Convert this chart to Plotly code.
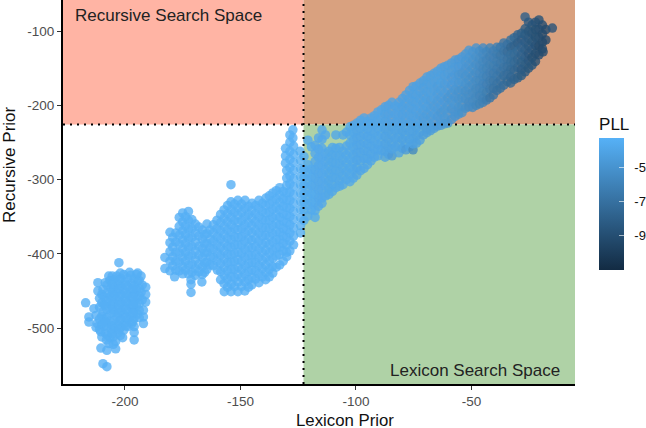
import plotly.graph_objects as go

# (Lexicon Prior, Recursive Prior), all with high PLL
cluster_a = [
(-202.6,-412),(-217,-466),(-213.4,-474),(-215.6,-485),(-215.6,-492),(-211.7,-439),(-211.7,-450),
(-209.5,-548),(-207.8,-552),(-210.4,-527),(-207.8,-530),(-204,-528),(-196,-498),(-196,-506),(-196,-516),
(-212,-494),(-211,-502),(-209.5,-448),(-209,-458),(-209,-468),(-209.5,-478),(-209,-488),(-209,-498),(-208.5,-507),
(-206.5,-436),(-206,-447),(-206.5,-458),(-206,-469),(-206,-480),(-206.5,-491),(-206,-502),(-206.5,-513),(-207,-521),
(-203.5,-430),(-203,-441),(-203.5,-452),(-203,-463),(-203,-474),(-203.5,-485),(-203,-496),(-203,-507),(-204,-518),
(-200.5,-428),(-200,-438),(-200.5,-449),(-200,-460),(-200,-471),(-200.5,-482),(-200,-493),(-200.5,-503),(-201,-513),
(-197.5,-429),(-197,-440),(-197.5,-451),(-197,-462),(-197,-473),(-197.5,-484),(-197,-494),
(-195,-428),(-194.5,-437),(-195,-448),(-194.5,-459),(-195,-470),(-194.5,-481),
(-193,-430),(-192.5,-442),(-193,-452),(-192.5,-462),(-192,-476),(-192,-485),(-192,-494),
(-191,-445),(-191,-455),(-191,-465),
]

cluster_a_fill = [
(-210,-455),(-210,-466),(-210,-484),(-210,-495),(-210.5,-505),
(-207.8,-442),(-207.8,-453),(-207.8,-464),(-207.8,-475),(-207.8,-486),(-207.8,-497),(-207.5,-510),
(-204.8,-435),(-204.8,-446),(-204.8,-457),(-204.8,-468),(-204.8,-479),(-204.8,-490),(-204.8,-501),(-205,-512),(-205,-522),
(-201.8,-433),(-201.8,-444),(-201.8,-455),(-201.8,-466),(-201.8,-477),(-201.8,-488),(-201.8,-499),(-202,-510),
(-198.8,-433),(-198.8,-444),(-198.8,-455),(-198.8,-466),(-198.8,-477),(-198.8,-488),(-198.8,-498),
(-196,-434),(-196,-443),(-196,-454),(-196,-465),(-196,-476),(-196,-487),
(-193.8,-436),(-193.8,-447),(-193.8,-457),(-193.8,-467),(-193.8,-476),(-193.8,-486),
(-212.5,-483),(-211,-488),(-212.5,-499),(-210,-512),(-208,-516),(-211,-460),(-211,-472),
(-208.5,-439),(-207,-430),(-205.5,-430),(-202,-426),(-198,-425),(-194.5,-426),
(-208.5,-470),(-208.5,-492),(-205.5,-475),(-205.5,-463),(-205.5,-452),(-205.5,-441),(-205.5,-497),(-205.5,-507),
(-202.5,-436),(-202.5,-447),(-202.5,-458),(-202.5,-469),(-202.5,-480),(-202.5,-491),(-202.5,-502),
(-199.5,-442),(-199.5,-453),(-199.5,-464),(-199.5,-475),(-199.5,-486),(-199.5,-497),
(-196.5,-447),(-196.5,-458),(-196.5,-469),(-196.5,-480),(-196.5,-491),
]

cluster_b = [
(-182.7,-405),(-182.7,-420),(-180.5,-371),(-180.5,-385),(-180.5,-397),(-180.5,-410),(-180.5,-423),
(-178,-372),(-178,-384),(-178,-398),(-178,-410),(-178,-422),(-178.5,-431),
(-175,-345),(-175,-357),(-175,-369),(-175,-381),(-175,-393),(-175,-405),(-175,-417),(-175,-427),
(-172.5,-343),(-172.5,-355),(-172.5,-367),(-172.5,-379),(-172.5,-391),(-172.5,-403),(-172.5,-415),(-172.5,-427),
(-171.4,-435),(-171.4,-441),(-171.4,-452),
(-169.5,-360),(-169.5,-372),(-169.5,-384),(-169.5,-396),(-169.5,-408),(-169.5,-420),(-169.5,-429),
(-166.5,-368),(-166.5,-380),(-166.5,-393),(-166.5,-405),(-166.5,-417),(-166.5,-428),(-166.7,-438),
(-164.5,-360),(-164.5,-373),(-164.5,-386),(-164.5,-398),(-164.5,-411),(-164.5,-421),
(-163.2,-368),(-163,-380),(-163.2,-392),(-163,-404),(-163.2,-415),
(-160.2,-355),(-160.2,-366),(-160,-377),(-160.2,-388),(-160,-399),(-160.2,-410),(-160,-422),
(-157.1,-341),(-157.1,-352),(-157,-363),(-157.1,-374),(-157,-385),(-157.1,-396),(-157,-407),(-157.1,-418),(-157,-429),(-157.1,-440),(-157,-451),
(-154.1,-307),(-154.1,-330),(-154,-341),(-154.1,-351),(-154,-361),(-154.1,-371),(-154,-381),(-154.1,-391),(-154,-401),(-154.1,-411),(-154,-421),(-154.1,-431),(-154,-441),(-154.1,-451),
(-151.1,-328),(-151,-338),(-151.1,-348),(-151,-358),(-151.1,-368),(-151,-378),(-151.1,-388),(-151,-398),(-151.1,-408),(-151,-418),(-151.1,-428),(-151,-438),(-151.1,-451),
(-148,-328),(-148.1,-339),(-148,-350),(-148.1,-361),(-148,-372),(-148.1,-383),(-148,-394),(-148.1,-405),(-148,-416),(-148.1,-427),(-148,-438),(-148.1,-450),
(-145,-332),(-145.1,-342),(-145,-352),(-145.1,-362),(-145,-372),(-145.1,-382),(-145,-392),(-145.1,-402),(-145,-412),(-145.1,-422),(-145,-432),(-145.1,-442),
(-142,-328),(-142.1,-339),(-142,-350),(-142.1,-361),(-142,-372),(-142.1,-383),(-142,-394),(-142.1,-405),(-142,-416),(-142.1,-427),(-142,-439),
(-139,-325),(-139.1,-335),(-139,-345),(-139.1,-355),(-139,-365),(-139.1,-375),(-139,-385),(-139.1,-395),(-139,-405),(-139.1,-415),(-139,-425),(-139.1,-435),
(-136,-318),(-136.1,-329),(-136,-340),(-136.1,-351),(-136,-362),(-136.1,-373),(-136,-384),(-136.1,-395),(-136,-406),(-136.1,-417),(-136,-426),
(-133,-311),(-133.1,-321),(-133,-331),(-133.1,-341),(-133,-351),(-133.1,-361),(-133,-371),(-133.1,-381),(-133,-391),(-133.1,-401),(-133,-415),
(-130.5,-258),(-130.5,-268),(-130.5,-278),(-130,-288),(-130,-298),(-130,-308),(-130,-318),(-130,-328),(-130,-338),(-130,-348),(-130,-358),(-130,-368),(-130,-378),(-130,-388),(-130,-398),(-130,-404),
(-127.3,-233),(-127.3,-244),(-127,-255),(-127,-266),(-127,-277),(-127,-288),(-127,-299),(-127,-310),(-127,-321),(-127,-332),(-127,-343),(-127,-354),(-127,-365),(-127,-376),(-127,-388),
]

cluster_b_fill = [
(-179.3,-378),(-179.3,-391),(-179.3,-404),(-179.3,-416),
(-176.5,-351),(-176.5,-363),(-176.5,-375),(-176.5,-387),(-176.5,-399),(-176.5,-411),(-176.5,-423),
(-173.8,-350),(-173.8,-362),(-173.8,-374),(-173.8,-386),(-173.8,-398),(-173.8,-410),(-173.8,-422),
(-171,-354),(-171,-366),(-171,-378),(-171,-390),(-171,-402),(-171,-414),(-171,-425),
(-168,-364),(-168,-376),(-168,-390),(-168,-402),(-168,-414),(-168,-424),
(-165.5,-374),(-165.5,-386),(-165.5,-399),(-165.5,-412),(-165.5,-425),
(-161.7,-361),(-161.7,-372),(-161.7,-383),(-161.7,-394),(-161.7,-405),(-161.7,-416),
(-158.6,-347),(-158.6,-358),(-158.6,-369),(-158.6,-380),(-158.6,-391),(-158.6,-402),(-158.6,-413),(-158.6,-424),(-158.6,-435),
(-155.6,-335),(-155.6,-346),(-155.6,-357),(-155.6,-368),(-155.6,-379),(-155.6,-390),(-155.6,-401),(-155.6,-412),(-155.6,-423),(-155.6,-434),(-155.6,-445),
(-152.6,-333),(-152.6,-344),(-152.6,-355),(-152.6,-366),(-152.6,-377),(-152.6,-388),(-152.6,-399),(-152.6,-410),(-152.6,-421),(-152.6,-432),(-152.6,-444),
(-149.5,-333),(-149.5,-344),(-149.5,-355),(-149.5,-366),(-149.5,-377),(-149.5,-388),(-149.5,-399),(-149.5,-410),(-149.5,-421),(-149.5,-432),(-149.5,-444),
(-146.5,-336),(-146.5,-347),(-146.5,-358),(-146.5,-369),(-146.5,-380),(-146.5,-391),(-146.5,-402),(-146.5,-413),(-146.5,-424),(-146.5,-435),(-146.5,-445),
(-143.5,-335),(-143.5,-346),(-143.5,-357),(-143.5,-368),(-143.5,-379),(-143.5,-390),(-143.5,-401),(-143.5,-412),(-143.5,-423),(-143.5,-434),
(-140.5,-332),(-140.5,-343),(-140.5,-354),(-140.5,-365),(-140.5,-376),(-140.5,-387),(-140.5,-398),(-140.5,-409),(-140.5,-420),(-140.5,-431),
(-137.5,-322),(-137.5,-333),(-137.5,-344),(-137.5,-355),(-137.5,-366),(-137.5,-377),(-137.5,-388),(-137.5,-399),(-137.5,-410),(-137.5,-421),(-137.5,-431),
(-134.5,-315),(-134.5,-326),(-134.5,-337),(-134.5,-348),(-134.5,-359),(-134.5,-370),(-134.5,-381),(-134.5,-392),(-134.5,-403),(-134.5,-418),
(-131.5,-316),(-131.5,-326),(-131.5,-336),(-131.5,-346),(-131.5,-356),(-131.5,-366),(-131.5,-376),(-131.5,-386),(-131.5,-396),(-131.5,-410),
(-128.6,-240),(-128.6,-250),(-128.6,-262),(-128.6,-273),(-128.6,-284),(-128.6,-295),(-128.6,-306),(-128.6,-317),(-128.6,-328),(-128.6,-339),(-128.6,-350),(-128.6,-361),(-128.6,-372),(-128.6,-383),(-128.6,-396),
]

# (Lexicon Prior, Recursive Prior, PLL)
ridge = [
(-124.2,-262,-3.6),(-124,-274,-3.6),(-124,-285,-3.6),(-124,-296,-3.6),(-124,-307,-3.6),(-124,-318,-3.6),(-124,-329,-3.6),(-124,-340,-3.6),(-124,-351,-3.6),(-124,-362,-3.6),(-124,-372,-3.6),
(-120.8,-247,-3.7),(-120.8,-280,-3.7),(-120.8,-291,-3.7),(-120.8,-302,-3.7),(-120.8,-313,-3.7),(-120.8,-324,-3.7),(-120.8,-335,-3.7),(-120.8,-349,-3.7),
(-117.7,-254,-3.8),(-117.7,-265,-3.8),(-117.7,-276,-3.8),(-117.7,-287,-3.8),(-117.7,-298,-3.8),(-117.7,-309,-3.8),(-117.7,-320,-3.7),(-117.7,-331,-3.7),(-117.7,-342,-3.7),(-117.7,-351,-3.7),
(-114.7,-233,-3.8),(-114.7,-246,-3.8),(-114.7,-258,-3.8),(-114.7,-270,-3.8),(-114.7,-281,-3.8),(-114.7,-292,-3.8),(-114.7,-303,-3.8),(-114.7,-314,-3.8),(-114.7,-325,-3.8),(-114.7,-332,-3.8),
(-111.7,-262,-3.9),(-111.7,-272,-3.9),(-111.7,-282,-3.9),(-111.7,-292,-3.9),(-111.7,-302,-3.9),(-111.7,-312,-3.9),(-111.7,-320,-3.9),
(-108.7,-240,-3.9),(-108.7,-258,-3.9),(-108.7,-268,-3.9),(-108.7,-278,-3.9),(-108.7,-288,-3.9),(-108.7,-298,-3.9),(-108.7,-311,-3.9),
(-105.6,-240,-3.9),(-105.6,-262,-3.9),(-105.6,-273,-3.9),(-105.6,-284,-3.9),(-105.6,-295,-3.9),(-105.6,-307,-3.9),
(-102.6,-229,-3.9),(-102.6,-240,-3.9),(-102.6,-251,-3.9),(-102.6,-262,-3.9),(-102.6,-273,-3.9),(-102.6,-284,-3.9),(-102.6,-303,-3.9),(-102.6,-293,-3.9),
(-99.6,-224,-4.0),(-99.6,-234,-4.0),(-99.6,-244,-4.0),(-99.6,-254,-4.0),(-99.6,-264,-4.0),(-99.6,-274,-4.0),(-99.6,-284,-4.0),(-99.6,-294,-4.0),
(-96.5,-217,-4.0),(-96.5,-228,-4.0),(-96.5,-239,-4.0),(-96.5,-250,-4.0),(-96.5,-261,-4.0),(-96.5,-272,-4.0),(-96.5,-285,-4.0),
(-93.5,-217,-4.0),(-93.5,-225,-4.0),(-93.5,-235,-4.0),(-93.5,-245,-4.0),(-93.5,-255,-4.0),(-93.5,-265,-4.0),(-93.5,-275,-4.0),
(-90.5,-209,-4.0),(-90.5,-220,-4.0),(-90.5,-231,-4.0),(-90.5,-242,-4.0),(-90.5,-253,-4.0),(-90.5,-268,-4.0),(-90.5,-260,-4.0),
(-87.4,-202,-4.1),(-87.4,-212,-4.1),(-87.4,-222,-4.1),(-87.4,-232,-4.1),(-87.4,-242,-4.1),(-87.4,-252,-4.1),(-87.4,-262,-4.1),(-87.4,-270,-4.1),
(-84.4,-196,-4.1),(-84.4,-207,-4.1),(-84.4,-218,-4.1),(-84.4,-229,-4.2),(-84.4,-240,-4.1),(-84.4,-251,-4.1),(-84.4,-268,-4.6),(-84.4,-259,-4.1),
(-81.4,-196,-4.1),(-81.4,-203,-4.1),(-81.4,-213,-4.1),(-81.4,-223,-4.1),(-81.4,-233,-4.1),(-81.4,-243,-4.1),(-81.4,-253,-4.1),(-81.4,-264,-4.1),
(-78.4,-186,-4.2),(-78.4,-197,-4.2),(-78.4,-208,-4.2),(-78.4,-219,-4.2),(-78.4,-230,-4.2),(-78.4,-241,-4.2),(-78.4,-252,-4.2),(-78.4,-260,-4.6),
(-75.3,-175,-4.2),(-75.3,-185,-4.2),(-75.3,-195,-4.2),(-75.3,-205,-4.2),(-75.3,-215,-4.2),(-75.3,-225,-4.2),(-75.3,-235,-4.2),(-75.3,-245,-4.2),(-75.3,-260,-5.6),(-75.3,-252,-4.2),
(-72.3,-170,-4.2),(-72.3,-181,-4.2),(-72.3,-192,-4.2),(-72.3,-203,-4.2),(-72.3,-214,-4.3),(-72.3,-225,-4.2),(-72.3,-236,-4.2),(-72.3,-247,-4.3),
(-69.3,-162,-4.3),(-69.3,-172,-4.3),(-69.3,-182,-4.3),(-69.3,-192,-4.3),(-69.3,-202,-4.3),(-69.3,-212,-4.4),(-69.3,-222,-4.4),(-69.3,-232,-4.5),(-69.3,-237,-4.4),
(-66.2,-157,-4.3),(-66.2,-168,-4.3),(-66.2,-179,-4.3),(-66.2,-190,-4.3),(-66.2,-201,-4.5),(-66.2,-212,-4.4),(-66.2,-223,-4.5),(-66.2,-231,-4.5),
(-63.2,-150,-4.3),(-63.2,-160,-4.3),(-63.2,-170,-4.3),(-63.2,-180,-4.4),(-63.2,-190,-4.5),(-63.2,-200,-4.5),(-63.2,-210,-4.7),(-63.2,-220,-4.6),(-63.2,-227,-4.6),
(-60.2,-146,-4.4),(-60.2,-157,-4.4),(-60.2,-168,-4.4),(-60.2,-179,-4.5),(-60.2,-190,-4.8),(-60.2,-201,-4.7),(-60.2,-212,-4.7),(-60.2,-224,-4.8),
(-57.1,-139,-4.5),(-57.1,-149,-4.5),(-57.1,-159,-4.6),(-57.1,-169,-4.6),(-57.1,-179,-4.8),(-57.1,-189,-4.9),(-57.1,-199,-4.8),(-57.1,-209,-4.9),(-57.1,-215,-4.9),
(-54.1,-135,-4.6),(-54.1,-146,-4.6),(-54.1,-157,-4.9),(-54.1,-168,-4.8),(-54.1,-179,-5.0),(-54.1,-190,-5.1),(-54.1,-201,-5.1),(-54.1,-210,-5.1),
(-51.1,-126,-4.7),(-51.1,-136,-4.8),(-51.1,-146,-4.9),(-51.1,-156,-5.0),(-51.1,-166,-5.1),(-51.1,-176,-5.2),(-51.1,-186,-5.3),(-51.1,-196,-5.4),(-51.1,-202,-5.4),
(-48,-123,-5.0),(-48,-134,-5.1),(-48,-145,-5.2),(-48,-156,-5.3),(-48,-167,-5.4),(-48,-178,-5.6),(-48,-189,-5.6),(-48,-200,-5.7),
(-45,-123,-5.5),(-45,-131,-5.5),(-45,-141,-5.6),(-45,-151,-5.7),(-45,-161,-5.7),(-45,-171,-5.8),(-45,-181,-5.9),(-45,-191,-6.0),(-45,-196,-6.0),
(-42,-123,-5.9),(-42,-134,-6.0),(-42,-145,-6.0),(-42,-156,-6.1),(-42,-167,-6.3),(-42,-178,-6.4),(-42,-190,-6.7),
(-39,-122,-6.2),(-39,-131,-6.3),(-39,-141,-6.3),(-39,-151,-6.4),(-39,-161,-6.5),(-39,-171,-6.8),(-39,-180,-7.0),
(-36,-116,-6.7),(-36,-127,-6.8),(-36,-138,-6.6),(-36,-149,-6.8),(-36,-160,-7.1),(-36,-173,-7.2),
(-33,-112,-7.1),(-33,-122,-7.6),(-33,-132,-7.1),(-33,-142,-7.1),(-33,-152,-7.3),(-33,-162,-7.5),(-33,-170,-7.6),
(-30,-105,-7.7),(-30,-116,-8.0),(-30,-127,-7.4),(-30,-138,-7.6),(-30,-149,-7.7),(-30,-163,-7.9),
(-26.8,-81,-8.0),(-26.8,-97,-8.2),(-26.8,-105,-8.2),(-26.8,-115,-8.1),(-26.8,-125,-8.0),(-26.8,-135,-8.0),(-26.8,-145,-8.2),(-26.8,-155,-8.3),
(-23.8,-92,-8.6),(-23.8,-103,-8.6),(-23.8,-114,-8.5),(-23.8,-125,-8.4),(-23.8,-136,-8.8),(-23.8,-146,-8.5),
(-20.8,-85,-8.8),(-20.8,-98,-8.9),(-20.8,-109,-8.8),(-20.8,-120,-9.1),(-20.8,-132,-9.0),
(-17.8,-98,-9.2),(-17.8,-112,-9.3),(-19,-128,-9.1),
(-15,-96,-8.7),
]

ridge_fill = [
(-122.5,-269,-3.6),(-122.5,-286,-3.6),(-122.5,-297,-3.6),(-122.5,-308,-3.6),(-122.5,-319,-3.6),(-122.5,-330,-3.6),(-122.5,-341,-3.6),(-122.5,-355,-3.6),
(-119.3,-256,-3.7),(-119.3,-286,-3.7),(-119.3,-297,-3.7),(-119.3,-308,-3.7),(-119.3,-319,-3.7),(-119.3,-330,-3.7),(-119.3,-341,-3.7),
(-116.2,-244,-3.8),(-116.2,-259,-3.8),(-116.2,-270,-3.8),(-116.2,-281,-3.8),(-116.2,-292,-3.8),(-116.2,-303,-3.8),(-116.2,-314,-3.8),(-116.2,-325,-3.8),(-116.2,-336,-3.8),
(-113.2,-240,-3.8),(-113.2,-265,-3.8),(-113.2,-276,-3.8),(-113.2,-287,-3.8),(-113.2,-298,-3.8),(-113.2,-309,-3.8),(-113.2,-322,-3.8),
(-110.2,-257,-3.9),(-110.2,-267,-3.9),(-110.2,-277,-3.9),(-110.2,-287,-3.9),(-110.2,-297,-3.9),(-110.2,-307,-3.9),(-110.2,-316,-3.9),
(-107.1,-257,-3.9),(-107.1,-268,-3.9),(-107.1,-279,-3.9),(-107.1,-290,-3.9),(-107.1,-301,-3.9),(-107.1,-309,-3.9),
(-104.1,-236,-3.9),(-104.1,-255,-3.9),(-104.1,-267,-3.9),(-104.1,-278,-3.9),(-104.1,-289,-3.9),(-104.1,-300,-3.9),
(-101.1,-227,-3.9),(-101.1,-237,-3.9),(-101.1,-247,-3.9),(-101.1,-257,-3.9),(-101.1,-267,-3.9),(-101.1,-277,-3.9),(-101.1,-287,-3.9),(-101.1,-298,-3.9),
(-98,-220,-4.0),(-98,-231,-4.0),(-98,-242,-4.0),(-98,-253,-4.0),(-98,-264,-4.0),(-98,-275,-4.0),(-98,-288,-4.0),
(-95,-222,-4.0),(-95,-232,-4.0),(-95,-242,-4.0),(-95,-252,-4.0),(-95,-262,-4.0),(-95,-272,-4.0),(-95,-280,-4.0),
(-92,-214,-4.0),(-92,-226,-4.0),(-92,-237,-4.0),(-92,-248,-4.0),(-92,-259,-4.0),(-92,-270,-4.0),
(-89,-206,-4.0),(-89,-217,-4.0),(-89,-228,-4.0),(-89,-239,-4.0),(-89,-250,-4.0),(-89,-261,-4.0),
(-85.9,-200,-4.1),(-85.9,-212,-4.1),(-85.9,-224,-4.1),(-85.9,-235,-4.1),(-85.9,-246,-4.1),(-85.9,-257,-4.1),(-85.9,-266,-4.1),
(-82.9,-201,-4.1),(-82.9,-212,-4.1),(-82.9,-223,-4.1),(-82.9,-234,-4.1),(-82.9,-245,-4.1),(-82.9,-256,-4.1),
(-79.9,-191,-4.2),(-79.9,-202,-4.2),(-79.9,-213,-4.2),(-79.9,-224,-4.2),(-79.9,-235,-4.2),(-79.9,-246,-4.2),(-79.9,-258,-4.2),
(-76.8,-180,-4.2),(-76.8,-191,-4.2),(-76.8,-202,-4.2),(-76.8,-213,-4.2),(-76.8,-224,-4.2),(-76.8,-235,-4.2),(-76.8,-246,-4.2),(-76.8,-256,-4.2),
(-73.8,-174,-4.2),(-73.8,-186,-4.2),(-73.8,-197,-4.2),(-73.8,-208,-4.2),(-73.8,-219,-4.2),(-73.8,-230,-4.3),(-73.8,-241,-4.3),(-73.8,-251,-4.3),
(-70.8,-167,-4.3),(-70.8,-177,-4.3),(-70.8,-187,-4.3),(-70.8,-197,-4.3),(-70.8,-207,-4.3),(-70.8,-217,-4.4),(-70.8,-227,-4.4),(-70.8,-240,-4.4),
(-67.7,-160,-4.3),(-67.7,-172,-4.3),(-67.7,-183,-4.3),(-67.7,-194,-4.4),(-67.7,-205,-4.4),(-67.7,-216,-4.5),(-67.7,-227,-4.5),(-67.7,-234,-4.5),
(-64.7,-154,-4.3),(-64.7,-165,-4.3),(-64.7,-175,-4.4),(-64.7,-185,-4.4),(-64.7,-195,-4.5),(-64.7,-205,-4.5),(-64.7,-215,-4.6),(-64.7,-228,-4.6),
(-61.7,-148,-4.4),(-61.7,-160,-4.4),(-61.7,-172,-4.5),(-61.7,-184,-4.5),(-61.7,-195,-4.6),(-61.7,-206,-4.7),(-61.7,-217,-4.7),(-61.7,-225,-4.7),
(-58.6,-143,-4.5),(-58.6,-153,-4.5),(-58.6,-163,-4.6),(-58.6,-173,-4.6),(-58.6,-184,-4.8),(-58.6,-194,-4.8),(-58.6,-205,-4.9),(-58.6,-219,-4.9),
(-55.6,-138,-4.6),(-55.6,-148,-4.6),(-55.6,-159,-4.8),(-55.6,-170,-4.8),(-55.6,-181,-5.0),(-55.6,-192,-5.0),(-55.6,-203,-5.0),(-55.6,-212,-5.0),
(-52.6,-131,-4.7),(-52.6,-141,-4.8),(-52.6,-151,-4.9),(-52.6,-161,-5.0),(-52.6,-171,-5.0),(-52.6,-181,-5.2),(-52.6,-191,-5.2),(-52.6,-204,-5.2),
(-49.5,-128,-4.9),(-49.5,-139,-5.0),(-49.5,-150,-5.1),(-49.5,-161,-5.2),(-49.5,-172,-5.3),(-49.5,-183,-5.4),(-49.5,-194,-5.5),(-49.5,-203,-5.5),
(-46.5,-127,-5.2),(-46.5,-137,-5.3),(-46.5,-147,-5.4),(-46.5,-157,-5.5),(-46.5,-167,-5.6),(-46.5,-177,-5.7),(-46.5,-187,-5.8),(-46.5,-198,-5.9),
(-43.5,-128,-5.7),(-43.5,-139,-5.8),(-43.5,-150,-5.9),(-43.5,-161,-6.0),(-43.5,-172,-6.1),(-43.5,-183,-6.2),(-43.5,-193,-6.3),
(-40.5,-127,-6.1),(-40.5,-137,-6.1),(-40.5,-147,-6.2),(-40.5,-157,-6.4),(-40.5,-167,-6.6),(-40.5,-177,-6.8),(-40.5,-186,-6.9),
(-37.5,-122,-6.5),(-37.5,-133,-6.6),(-37.5,-144,-6.5),(-37.5,-155,-6.7),(-37.5,-166,-6.9),(-37.5,-177,-7.1),
(-34.5,-118,-6.9),(-34.5,-128,-7.2),(-34.5,-138,-6.9),(-34.5,-148,-7.0),(-34.5,-158,-7.2),(-34.5,-168,-7.4),
(-31.5,-109,-7.4),(-31.5,-120,-7.8),(-31.5,-131,-7.3),(-31.5,-142,-7.4),(-31.5,-153,-7.6),(-31.5,-165,-7.8),
(-28.4,-103,-7.9),(-28.4,-112,-8.1),(-28.4,-122,-7.8),(-28.4,-132,-7.8),(-28.4,-142,-7.9),(-28.4,-152,-8.1),(-28.4,-160,-8.2),
(-25.3,-88,-8.3),(-25.3,-100,-8.5),(-25.3,-110,-8.3),(-25.3,-120,-8.3),(-25.3,-130,-8.4),(-25.3,-140,-8.4),(-25.3,-150,-8.5),
(-22.3,-88,-8.7),(-22.3,-98,-8.8),(-22.3,-108,-8.8),(-22.3,-119,-8.7),(-22.3,-130,-8.9),(-22.3,-141,-8.8),
(-19.3,-92,-9.0),(-19.3,-104,-9.1),(-19.3,-115,-9.1),(-19.3,-124,-9.2),
]

light_pll = -3.4
pll_ticks = [-5, -7, -9]
x_ticks = [-200, -150, -100, -50]
y_ticks = [-100, -200, -300, -400, -500]
x_range = [-226.8, -5.2]
y_range = [-575.4, -58.2]
x_split = -122.7
y_split = -226

light = cluster_a + cluster_a_fill + cluster_b + cluster_b_fill
mid = sorted(ridge + ridge_fill, key=lambda p: p[0])
lexicon = [p[0] for p in light] + [p[0] for p in mid]
recursive = [p[1] for p in light] + [p[1] for p in mid]
pll = [light_pll] * len(light) + [p[2] for p in mid]

FONT = "Liberation Sans"
fig = go.Figure(go.Scatter(
    x=lexicon, y=recursive, mode="markers", hoverinfo="skip",
    marker=dict(
        size=9.5, color=pll, opacity=0.8, line=dict(width=0),
        cmin=-11, cmax=-3.3,
        colorscale=[[0, "#132B43"], [1, "#56B1F7"]],
        colorbar=dict(
            title=dict(text="PLL", side="top", font=dict(size=17, color="#111", family=FONT)),
            x=1.047, xanchor="left", y=0.5, yanchor="middle",
            lenmode="pixels", len=156, thicknessmode="pixels", thickness=25,
            xpad=0, ypad=0, outlinewidth=0, tickvals=pll_ticks,
            ticktext=["\u00a0\u00a0" + str(v) for v in pll_ticks],
            ticks="inside", ticklen=5, tickcolor="rgba(255,255,255,0.6)", tickwidth=1,
            tickfont=dict(size=13, color="#111", family=FONT),
        ),
    ),
))

def rect(x0, x1, y0, y1, color):
    return dict(type="rect", xref="x", yref="y", x0=x0, x1=x1, y0=y0, y1=y1,
                fillcolor=color, line=dict(width=0), layer="below")

dots = dict(color="#000", width=2, dash="2px,5px")
shapes = [
    rect(x_range[0], x_split, y_split, y_range[1], "#FFB4A4"),
    rect(x_split, x_range[1], y_split, y_range[1], "#D9A17F"),
    rect(x_split, x_range[1], y_range[0], y_split, "#AFD2A6"),
    dict(type="line", xref="x", yref="y", x0=x_range[0], x1=x_range[1], y0=y_split, y1=y_split, line=dots),
    dict(type="line", xref="x", yref="y", x0=x_split, x1=x_split, y0=y_range[0], y1=y_range[1], line=dots),
]

annotations = [
    dict(text="Recursive Search Space", xref="paper", yref="paper", x=10/512, y=1-15/384,
         xanchor="left", yanchor="middle", showarrow=False, font=dict(size=17, color="#222", family=FONT)),
    dict(text="Lexicon Search Space", xref="paper", yref="paper", x=499/512, y=1-370/384,
         xanchor="right", yanchor="middle", showarrow=False, font=dict(size=17, color="#222", family=FONT)),
    dict(text="Lexicon Prior", xref="paper", yref="paper", x=(345-63)/512, y=-(420-384)/384,
         xanchor="center", yanchor="middle", showarrow=False, font=dict(size=16.8, color="#111", family=FONT)),
    dict(text="Recursive Prior", xref="paper", yref="paper", x=-(63-9)/512, y=1-165/384,
         xanchor="center", yanchor="middle", textangle=-90, showarrow=False, font=dict(size=17, color="#111", family=FONT)),
]

axis = dict(showgrid=False, zeroline=False, showline=True, linecolor="#000", linewidth=2,
            ticks="outside", ticklen=4, tickcolor="#333", tickwidth=1,
            tickfont=dict(size=13.5, color="#4D4D4D", family=FONT))

fig.update_layout(
    width=646, height=428, autosize=False, showlegend=False,
    margin=dict(l=63, r=71, t=0, b=44, autoexpand=False),
    paper_bgcolor="#fff", plot_bgcolor="#fff",
    xaxis=dict(range=x_range, tickvals=x_ticks, ticktext=[str(v) for v in x_ticks], **axis),
    yaxis=dict(range=y_range, tickvals=y_ticks, ticktext=[str(v) for v in y_ticks], **axis),
    shapes=shapes, annotations=annotations,
)
fig.write_html("out.html", config={"displayModeBar": False}, post_script="document.body.style.margin='0';")
